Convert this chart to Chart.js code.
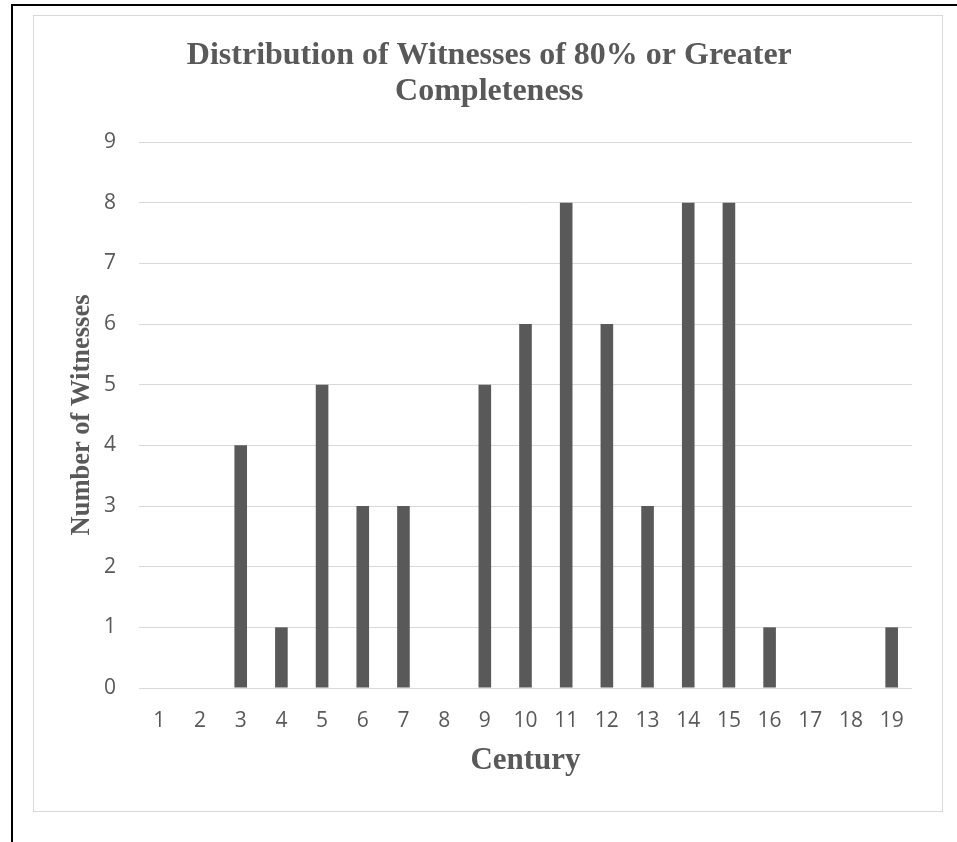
<!DOCTYPE html>
<html>
<head>
<meta charset="utf-8">
<script src="https://cdn.jsdelivr.net/npm/chart.js@4"></script>
<style>
  html, body { margin: 0; padding: 0; background: #fff; overflow: hidden; }
  #frame { position: absolute; left: 11px; top: 4px; width: 1000px; height: 900px; border: 2px solid #000; }
  #box { position: absolute; left: 33px; top: 15px; width: 908px; height: 795px; border: 1px solid #d9d9d9; }
  #wrap { position: absolute; left: 23px; top: 16px; width: 918px; height: 794px; }
</style>
</head>
<body>
<div id="frame"></div>
<div id="box"></div>
<div id="wrap"><canvas id="mainChart"></canvas></div>
<script>
const centuries = ['1', '2', '3', '4', '5', '6', '7', '8', '9', '10', '11', '12', '13', '14', '15', '16', '17', '18', '19'];
const witnesses = [0, 0, 4, 1, 5, 3, 3, 0, 5, 6, 8, 6, 3, 8, 8, 1, 0, 0, 1];
const yTicks = [0, 1, 2, 3, 4, 5, 6, 7, 8, 9];

const grey = '#595959';
const serif = "'Liberation Serif', 'Times New Roman', serif";

let ctx = document.getElementById('mainChart').getContext('2d');
let chart = new Chart(ctx, {
  type: 'bar',
  data: {
    labels: centuries,
    datasets: [{
      label: 'Witnesses',
      data: witnesses,
      backgroundColor: grey,
      borderWidth: 0,
      categoryPercentage: 1,
      barPercentage: 0.31
    }]
  },
  options: {
    responsive: true,
    maintainAspectRatio: false,
    animation: false,
    layout: { padding: { left: 43.6, right: 29, top: 0, bottom: 30 } },
    plugins: {
      legend: { display: false },
      tooltip: { enabled: false },
      title: {
        display: true,
        text: ['Distribution of Witnesses of 80% or Greater', 'Completeness'],
        color: grey,
        font: { family: serif, size: 32, weight: 'bold', lineHeight: 1.147 },
        padding: { top: 21, bottom: 31.6 }
      }
    },
    scales: {
      x: {
        grid: { display: false },
        border: { display: false },
        ticks: { color: grey, font: { family: 'Open Sans', size: 21 }, padding: 12, maxRotation: 0 },
        title: {
          display: true,
          text: 'Century',
          color: grey,
          font: { family: serif, size: 31, weight: 'bold', lineHeight: 1.2 },
          padding: 0
        },
        afterFit: (scale) => { scale.height = 92; }
      },
      y: {
        min: yTicks[0],
        max: yTicks[yTicks.length - 1],
        afterBuildTicks: (scale) => { scale.ticks = yTicks.map(v => ({ value: v })); },
        grid: { color: '#d9d9d9', lineWidth: 1, drawTicks: false },
        border: { display: false },
        ticks: { color: grey, font: { family: 'Open Sans', size: 21 }, padding: 23 },
        title: {
          display: true,
          text: 'Number of Witnesses',
          color: grey,
          font: { family: serif, size: 26.5, weight: 'bold', lineHeight: 1.2 },
          padding: 0
        },
        afterFit: (scale) => { scale.width = 72.4; }
      }
    }
  }
});
</script>
</body>
</html>
